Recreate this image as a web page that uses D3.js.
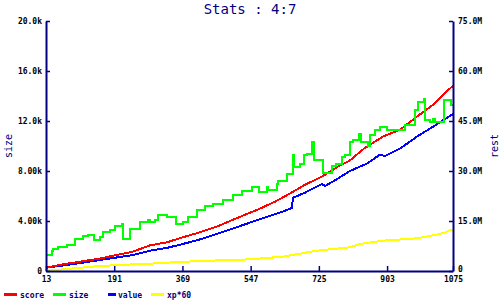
<!DOCTYPE html>
<html><head><meta charset="utf-8">
<script src="https://cdn.jsdelivr.net/npm/d3@7"></script>
<style>body{margin:0;background:#fff}svg{display:block}</style>
</head><body><svg id="c" width="500" height="300"></svg>
<script>
const title = "Stats : 4:7";
const xTicks = [13, 191, 369, 547, 725, 903, 1075];
const leftTicks = [0, 4, 8, 12, 16, 20];
const leftTickLabels = ["0", "4.00k", "8.00k", "12.0k", "16.0k", "20.0k"];
const rightTicks = [0, 15, 30, 45, 60, 75];
const rightTickLabels = ["0", "15.0M", "30.0M", "45.0M", "60.0M", "75.0M"];
const seriesNames = ["score", "size", "value", "xp*60"];
const seriesColors = ["#ff0000", "#00ff00", "#0000ff", "#ffff00"];

// score (k, left axis)
const scoreLevels = [13,57,154,240,284,329,370,415,459,501,540,569,611,644,689,733,775,806,843,851,892,937,981,1023,1067,1075];
const scoreValues = [0.25,0.53,1.0,1.55,2.05,2.3,2.7,3.1,3.55,4.1,4.6,4.96,5.55,6.1,6.9,7.55,8.35,8.85,9.8,9.95,10.75,11.3,12.35,13.3,14.6,14.8];
// size (k, left axis) step series
const sizeLevels = [13,28,32,45,67,89,110,123,138,154,163,180,193,211,215,232,258,280,284,297,305,329,352,370,383,407,428,449,475,501,524,550,569,590,592,616,618,642,657,660,676,686,694,707,712,736,759,770,785,793,806,814,830,835,853,858,871,884,903,950,976,984,999,1002,1015,1023,1028,1051,1070,1075];
const sizeValues = [1.25,1.62,1.73,1.95,2.08,2.53,2.8,2.9,2.5,2.7,3.15,3.3,3.6,3.8,2.6,3.35,3.95,4.05,3.9,4.1,4.5,4.3,3.75,3.95,4.3,4.9,5.2,5.4,5.7,6.1,6.4,6.7,6.35,6.7,6.5,6.95,7.2,7.8,9.3,8.35,8.6,9.3,9.4,10.35,8.9,7.85,8.4,8.55,9.15,9.3,10.35,10.5,10.95,10.35,10.0,10.9,11.3,11.55,11.3,11.7,12.9,13.55,13.8,12.1,11.9,12.2,11.95,13.7,13.3,13.3];
// value (k, left axis)
const valueLevels = [13,68,154,240,284,329,370,415,459,501,545,569,631,655,657,689,733,741,775,806,851,884,898,937,981,1023,1067,1075];
const valueValues = [0.27,0.48,0.88,1.28,1.62,1.85,2.16,2.53,2.96,3.4,3.87,4.13,4.75,5.05,5.85,6.27,6.96,6.8,7.4,8.0,8.6,9.3,9.2,9.8,10.75,11.55,12.4,12.55];
// xp*60 (M, right axis)
const xpLevels = [13,57,154,240,284,329,415,545,631,720,806,832,892,981,1028,1054,1067,1075];
const xpValues = [0.1,0.5,1.5,2.0,2.2,2.5,3.0,3.5,4.3,6.1,7.1,8.1,9.1,9.8,10.8,11.5,12.3,12.3];

const navy = "#000080";
const mono = "'DejaVu Sans Mono', monospace";
const svg = d3.select("#c");
const x = d3.scaleLinear().domain([13, 1075]).range([46, 453]);
const yL = d3.scaleLinear().domain([0, 20]).range([271, 21]);
const yR = d3.scaleLinear().domain([0, 75]).range([271, 21]);

function pts(lv, vals){ return lv.map((l,i)=>[l, vals[i]]); }
const lineL = d3.line().x(d=>x(d[0])).y(d=>yL(d[1]));
const lineLStep = d3.line().x(d=>x(d[0])).y(d=>yL(d[1])).curve(d3.curveStepAfter);
const lineR = d3.line().x(d=>x(d[0])).y(d=>yR(d[1]));

const plot = svg.append("g").attr("shape-rendering","crispEdges");
plot.append("path").attr("d", lineR(pts(xpLevels, xpValues))).attr("fill","none").attr("stroke",seriesColors[3]).attr("stroke-width",2);
plot.append("path").attr("d", lineL(pts(valueLevels, valueValues))).attr("fill","none").attr("stroke",seriesColors[2]).attr("stroke-width",2);
plot.append("path").attr("d", lineL(pts(scoreLevels, scoreValues))).attr("fill","none").attr("stroke",seriesColors[0]).attr("stroke-width",2);
plot.append("path").attr("d", lineLStep(pts(sizeLevels, sizeValues))).attr("fill","none").attr("stroke",seriesColors[1]).attr("stroke-width",2);

function styleAxis(g){
  g.selectAll("path,line").attr("stroke", navy);
  g.select("path.domain").attr("stroke-width", 2);
  g.selectAll("line").attr("stroke-width", 1.5);
  g.selectAll("text").attr("font-family", mono).attr("font-size", 8).attr("fill", "#000").attr("font-weight","bold");
}
svg.append("g").attr("transform","translate(46,0)")
  .call(d3.axisLeft(yL).tickValues(leftTicks).tickFormat((d,i)=>leftTickLabels[i]).tickSizeInner(-4).tickSizeOuter(0).tickPadding(4))
  .call(styleAxis);
const rAx = svg.append("g").attr("transform","translate(453,0)")
  .call(d3.axisRight(yR).tickValues(rightTicks).tickFormat((d,i)=>rightTickLabels[i]).tickSizeInner(-4).tickSizeOuter(0).tickPadding(5))
  .call(styleAxis);
rAx.selectAll(".tick text").filter(d=>d===0).attr("dy","0.1em");
svg.append("g").attr("transform","translate(0,271)")
  .call(d3.axisBottom(x).tickValues(xTicks).tickFormat(d=>d).tickSizeInner(-5).tickSizeOuter(0).tickPadding(5))
  .call(styleAxis);

svg.append("text").attr("x", 250).attr("y", 14).attr("text-anchor","middle")
  .attr("font-family", mono).attr("font-size", 14).attr("fill", navy).text(title);
svg.append("text").attr("transform","translate(12,146) rotate(-90)").attr("text-anchor","middle")
  .attr("font-family", mono).attr("font-size", 10).attr("fill", navy).text("size");
svg.append("text").attr("transform","translate(498,146) rotate(-90)").attr("text-anchor","middle")
  .attr("font-family", mono).attr("font-size", 10).attr("fill", navy).text("rest");

const legendX = [4, 53, 108, 151];
const legendLineW = [13, 13, 8, 13];
const legendTextX = [20, 69, 118, 167];
const lg = svg.append("g");
seriesNames.forEach((n,i)=>{
  lg.append("line").attr("x1", legendX[i]).attr("x2", legendX[i]+legendLineW[i]).attr("y1", 294.5).attr("y2", 294.5)
    .attr("stroke", seriesColors[i]).attr("stroke-width", 3);
  lg.append("text").attr("x", legendTextX[i]).attr("y", 297.5).attr("font-family", mono).attr("font-size", 8)
    .attr("font-weight","bold").attr("fill", navy).text(n);
});
</script></body></html>
